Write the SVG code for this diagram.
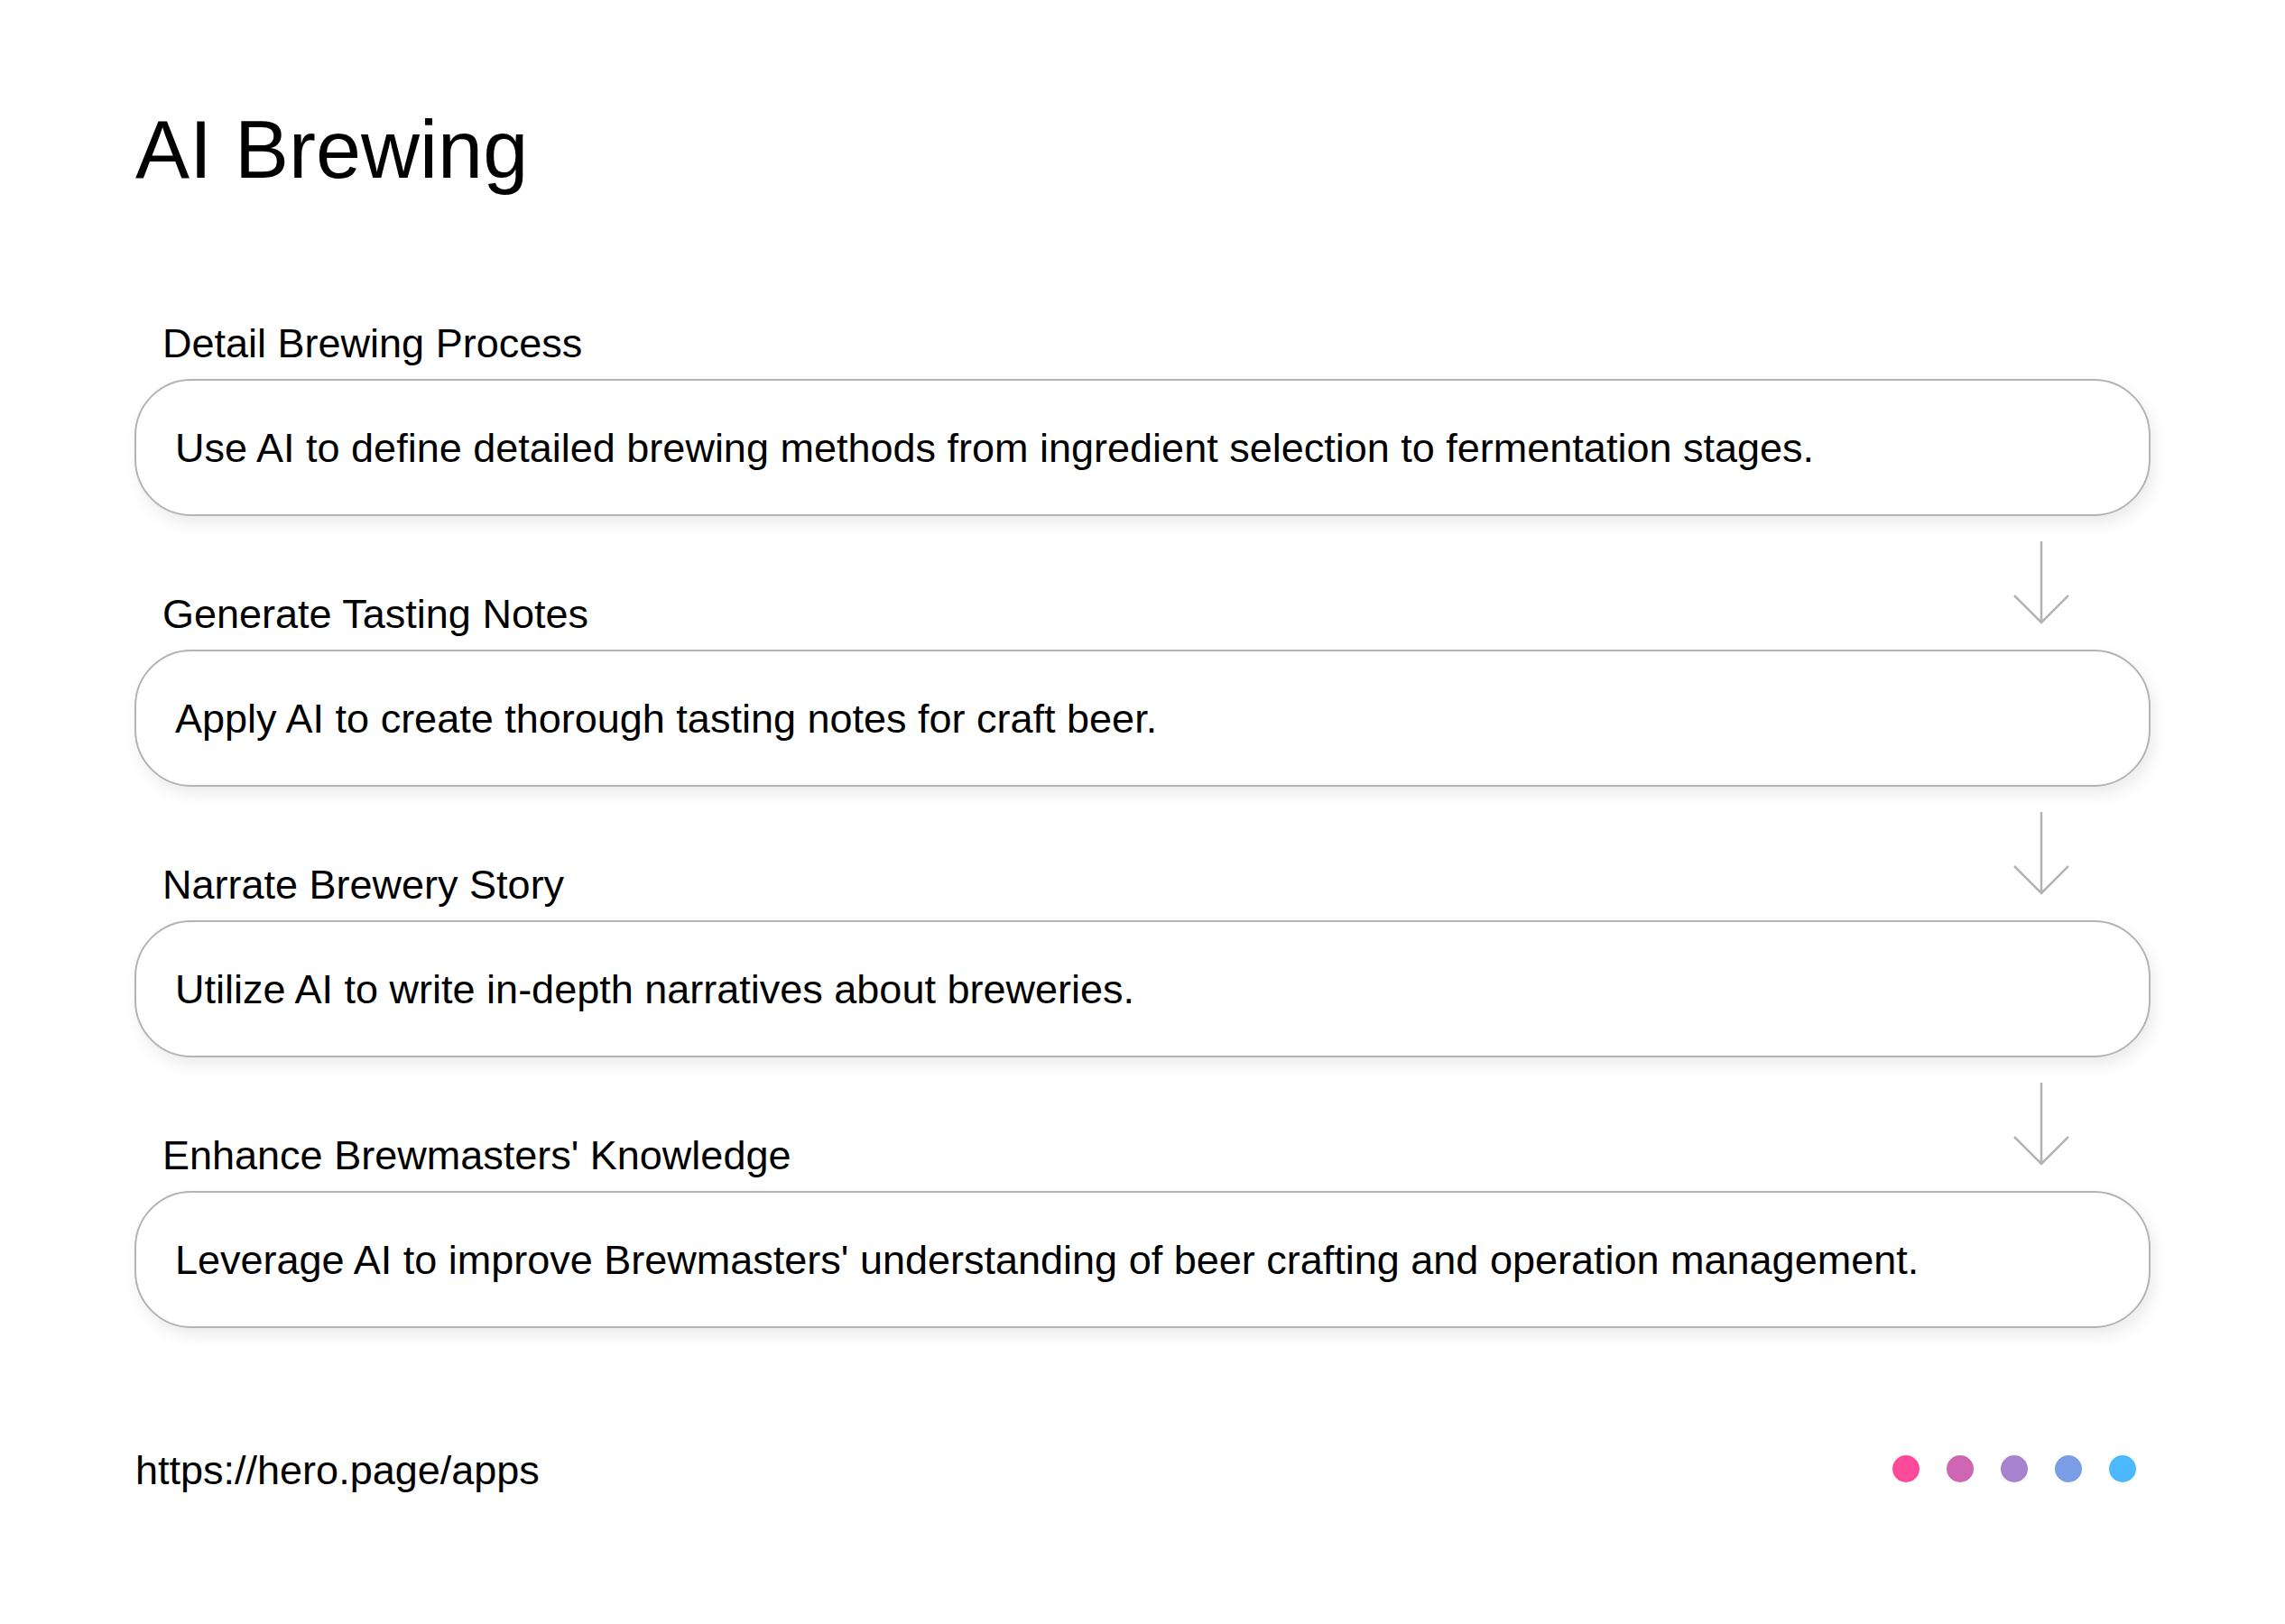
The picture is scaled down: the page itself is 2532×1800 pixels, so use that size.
<svg xmlns="http://www.w3.org/2000/svg" width="2532" height="1800" viewBox="0 0 2532 1800">
<style>
text{font-family:"Liberation Sans",Arial,sans-serif;fill:#000}
.title{font-size:90px}
.label{font-size:45px}
.body{font-size:45px}
.box{fill:#fff;stroke:#b3b3b3;stroke-width:2;filter:url(#sh)}
.arrow{fill:none;stroke:#b3b3b3;stroke-width:2.5}
</style>
<defs>
<filter id="sh" x="-5%" y="-30%" width="110%" height="170%">
<feDropShadow dx="4" dy="8" stdDeviation="8" flood-color="#000" flood-opacity="0.08"/>
</filter>
</defs>
<rect width="2532" height="1800" fill="#fff"/>
<text class="title" x="150" y="197">AI Brewing</text>
<g id="step1">
<text class="label" x="180" y="396">Detail Brewing Process</text>
<rect class="box" x="150" y="421" width="2232" height="150" rx="62"/>
<text class="body" x="194" y="512">Use AI to define detailed brewing methods from ingredient selection to fermentation stages.</text>
</g>
<g id="step2">
<text class="label" x="180" y="696">Generate Tasting Notes</text>
<rect class="box" x="150" y="721" width="2232" height="150" rx="62"/>
<text class="body" x="194" y="812">Apply AI to create thorough tasting notes for craft beer.</text>
</g>
<g id="step3">
<text class="label" x="180" y="996">Narrate Brewery Story</text>
<rect class="box" x="150" y="1021" width="2232" height="150" rx="62"/>
<text class="body" x="194" y="1112">Utilize AI to write in-depth narratives about breweries.</text>
</g>
<g id="step4">
<text class="label" x="180" y="1296">Enhance Brewmasters' Knowledge</text>
<rect class="box" x="150" y="1321" width="2232" height="150" rx="62"/>
<text class="body" x="194" y="1412">Leverage AI to improve Brewmasters' understanding of beer crafting and operation management.</text>
</g>
<g id="connectors">
<path class="arrow" d="M2262 600V690M2232 660L2262 690L2292 660"/>
<path class="arrow" d="M2262 900V990M2232 960L2262 990L2292 960"/>
<path class="arrow" d="M2262 1200V1290M2232 1260L2262 1290L2292 1260"/>
</g>
<g id="footer">
<text class="label" x="150" y="1645">https://hero.page/apps</text>
<circle cx="2112" cy="1628" r="15" fill="#ff4a9a"/>
<circle cx="2172" cy="1628" r="15" fill="#cf66b3"/>
<circle cx="2232" cy="1628" r="15" fill="#a783ce"/>
<circle cx="2292" cy="1628" r="15" fill="#7a9de6"/>
<circle cx="2352" cy="1628" r="15" fill="#4cb8ff"/>
</g>
</svg>
